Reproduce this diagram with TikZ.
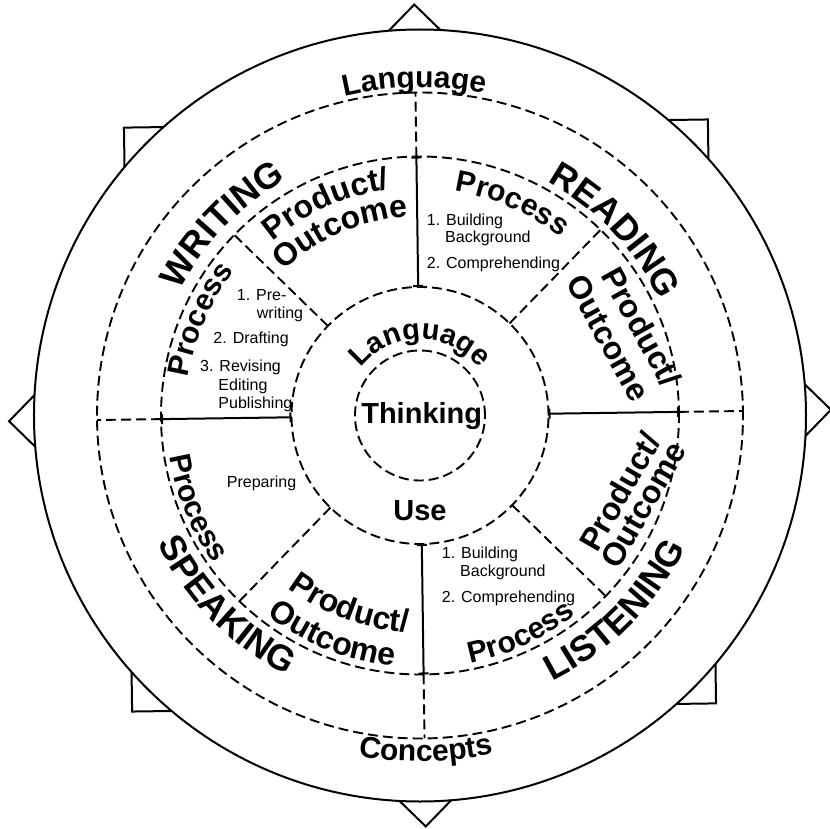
\documentclass[tikz,border=0pt]{standalone}
\usepackage{fontspec}
\setmainfont{Liberation Sans}
\usetikzlibrary{decorations.text,arrows.meta}
\newcommand\fQuad{\fontsize{36}{40}\selectfont\bfseries}
\newcommand\fPO{\fontsize{32}{36}\selectfont\bfseries}
\newcommand\fProc{\fontsize{30}{34}\selectfont\bfseries}
\newcommand\fOut{\fontsize{30}{34}\selectfont\bfseries}
\newcommand\fIn{\fontsize{29}{32}\selectfont\bfseries}
\newcommand\fSmall{\fontsize{16}{18}\selectfont}
\newcommand\toparc[5]{\path[decorate,decoration={text along path,text align=center,text={|#4|#5}}] ({#2+#3}:#1) arc[start angle={#2+#3},end angle={#2-#3},radius=#1];}
\newcommand\botarc[5]{\path[decorate,decoration={text along path,text align=center,text={|#4|#5}}] ({#2-#3}:#1) arc[start angle={#2-#3},end angle={#2+#3},radius=#1];}
\tikzset{
  outline/.style={draw=black,line width=2pt,fill=white,line join=miter},
  ring/.style={draw=black,line width=1.9pt,dash pattern=on 10pt off 5pt},
  dline/.style={draw=black,line width=1.9pt,dash pattern=on 10pt off 5pt},
  sline/.style={draw=black,line width=2pt,{Bar[width=10pt]}-{Bar[width=10pt]}},
  small/.style={font=\fSmall,inner sep=0pt,anchor=base west},
  rtext/.style={font=\fPO,inner sep=0pt}
}
\begin{document}
\begin{tikzpicture}[x=1pt,y=1pt]
\clip (-420,-412.5) rectangle (410,415.5);
\useasboundingbox (-420,-412.5) rectangle (410,415.5);
% star of two squares behind the circle
\begin{scope}[rotate=0.8]
  \path[outline] (-292,-292) -- (292,-292) -- (292,292) -- (-292,292) -- cycle;
  \path[outline] (411,0) -- (0,411) -- (-411,0) -- (0,-411) -- cycle;
\end{scope}
\path[outline] (0,0) circle[radius=386];
% dashed rings
\path[ring] (0,0) circle[radius=323];
\path[ring] (0,0) circle[radius=259];
\path[ring] (0,0) circle[radius=128.5];
\path[ring] (0,0) circle[radius=65];
% dividers
\begin{scope}[rotate=0.8]
  \foreach \a in {0,90,180,270} {
    \path[dline] (\a:259) -- (\a:323);
    \path[sline] (\a:128.5) -- (\a:259);
  }
  \foreach \a in {45,135,225,315} {
    \path[dline] (\a:128.5) -- (\a:259);
  }
\end{scope}
% outer band labels
\toparc{328}{91}{40}{\fOut}{Language}
\botarc{346}{271}{40}{\fOut}{Concepts}
% quadrant names
\toparc{271}{136}{45}{\fQuad}{WRITING}
\toparc{266}{43.5}{45}{\fQuad}{READING}
\botarc{292}{224.5}{45}{\fQuad}{SPEAKING}
\botarc{297}{315}{45}{\fQuad}{LISTENING}
% writing quadrant
\toparc{228}{114}{50}{\fPO}{Product/}
\toparc{199}{113.4}{55}{\fPO}{Outcome}
\toparc{235}{156.4}{50}{\fProc}{Process}
\node[small] (w1) at (-183.3,115.5) {1. Pre-};
\node[small] (w2) at (-163.3,97.2) {writing};
\node[small] (w3) at (-206.7,72.2) {2. Drafting};
\node[small] (w4) at (-220,43.8) {3. Revising};
\node[small] (w5) at (-201.7,25.5) {Editing};
\node[small] (w6) at (-201.7,7.2) {Publishing};
% reading quadrant
\toparc{227}{66.5}{50}{\fProc}{Process}
\node[small] (r1) at (6.7,190.5) {1. Building};
\node[small] (r2) at (25,173.2) {Background};
\node[small] (r3) at (6.7,147.2) {2. Comprehending};
\node[rtext,rotate=-61] (rpo1) at (221.7,88.8) {Product/};
\node[rtext,rotate=-61] (rpo2) at (188.3,77.2) {Outcome};
% listening quadrant
\botarc{253}{294.7}{50}{\fProc}{Process}
\node[small] (l1) at (21.7,-142.8) {1. Building};
\node[small] (l2) at (40,-161.2) {Background};
\node[small] (l3) at (21.7,-186.8) {2. Comprehending};
\node[rtext,rotate=60] (lpo1) at (200,-76.2) {Product/};
\node[rtext,rotate=60] (lpo2) at (223.3,-89.5) {Outcome};
% speaking quadrant
\botarc{253.5}{202.5}{50}{\fProc}{Process}
\node[small] (s1) at (-193.3,-72.2) {Preparing};
\botarc{217}{249.7}{55}{\fPO}{Product/}
\botarc{252}{248.3}{50}{\fPO}{Outcome}
% centre
\toparc{76}{90}{80}{\fIn}{Language}
\node[font=\fIn,inner sep=0pt,anchor=base] (think) at (1.7,-8) {Thinking};
\node[font=\fIn,inner sep=0pt,anchor=base] (use) at (0,-104.5) {Use};
\end{tikzpicture}
\end{document}
